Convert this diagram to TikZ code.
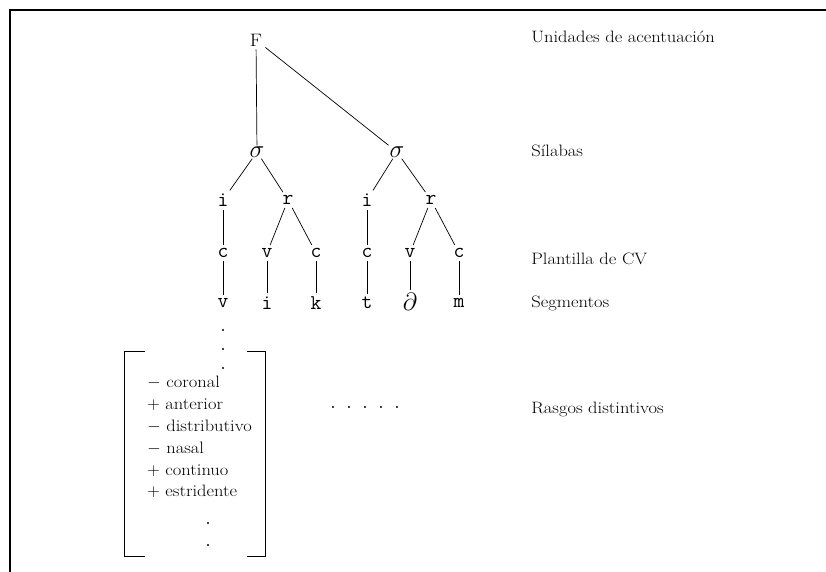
\documentclass[tikz,border=0pt]{standalone}
\usepackage{fontspec}
\setmainfont{Latin Modern Roman}[FakeStretch=1.12]
\usetikzlibrary{positioning}
\begin{document}
\begin{tikzpicture}[x=1pt,y=-1pt,
      lab/.style={font=\fontsize{16.5}{19}\selectfont, anchor=base west},
      seg/.style={font=\fontsize{21}{22}\selectfont\ttfamily, inner sep=3pt},
      sig/.style={font=\fontsize{24}{26}\selectfont, inner sep=1pt},
      every node/.style={inner sep=3pt},
      every path/.style={line width=0.7pt}
      ]
    \useasboundingbox (0,0) rectangle (826,572);
    % frame
    \draw [line width=1.6pt] (10,572) -- (10,10) -- (826,10);

    \node (F) [font=\fontsize{18}{20}\selectfont] at (256,40) {F};
    \node (s1) [sig] at (257,152) {$\sigma$};
    \node (s2) [sig] at (397,152) {$\sigma$};

    \node (i1) [seg] at (223,200) {i};
    \node (r1) [seg] at (288,200) {r};
    \node (i2) [seg] at (367,200) {i};
    \node (r2) [seg] at (431,200) {r};

    \node (c1) [seg] at (223,253) {c};
    \node (v1) [seg] at (267,253) {v};
    \node (c2) [seg] at (316,253) {c};
    \node (c3) [seg] at (367,253) {c};
    \node (v2) [seg] at (410,253) {v};
    \node (c4) [seg] at (459,253) {c};

    \node (sv) [seg] at (223,303) {v};
    \node (si) [seg] at (267,303) {i};
    \node (sk) [seg] at (316,303) {k};
    \node (st) [seg] at (367,303) {t};
    \node (sd) [sig, inner sep=3pt] at (410,302) {$\partial$};
    \node (sm) [seg] at (459,303) {m};

    \draw (F) -- (s1);
    \draw (F) -- (s2);
    \draw (s1) -- (i1);
    \draw (s1) -- (r1);
    \draw (s2) -- (i2);
    \draw (s2) -- (r2);
    \draw (i1) -- (c1);
    \draw (r1) -- (v1);
    \draw (r1) -- (c2);
    \draw (i2) -- (c3);
    \draw (r2) -- (v2);
    \draw (r2) -- (c4);
    \draw (c1) -- (sv);
    \draw (v1) -- (si);
    \draw (c2) -- (sk);
    \draw (c3) -- (st);
    \draw (v2) -- (sd);
    \draw (c4) -- (sm);

    % dots under v
    \foreach \y in {330,349,368}
      \fill (223,\y) circle (1.2pt);

    % feature matrix
    \node (brk) [minimum width=140pt, minimum height=204pt, inner sep=0pt] at (195,454) {};
    \draw ([xshift=20pt]brk.north west) -- (brk.north west) --
      (brk.south west) -- ([xshift=20pt]brk.south west);
    \draw ([xshift=-18pt]brk.north east) -- (brk.north east) --
      (brk.south east) -- ([xshift=-18pt]brk.south east);

    \node (feat) [anchor=north west, align=left, inner sep=0pt,
      font=\fontsize{16.5}{21.8}\selectfont] at (147,376) {%
      $-$ coronal\\
      $+$ anterior\\
      $-$ distributivo\\
      $-$ nasal\\
      $+$ continuo\\
      $+$ estridente};
    \foreach \y in {523,545}
      \fill (208,\y) circle (1.2pt);

    \foreach \x in {333,349,365,381,397}
      \fill (\x,407) circle (1.2pt);

    % level names
    \node (l1) [lab] at (528,43) {Unidades de acentuación};
    \node (l2) [lab] at (528,157) {Sílabas};
    \node (l3) [lab] at (528,264) {Plantilla de CV};
    \node (l4) [lab] at (528,307) {Segmentos};
    \node (l5) [lab] at (528,413) {Rasgos distintivos};
  \end{tikzpicture}
\end{document}
